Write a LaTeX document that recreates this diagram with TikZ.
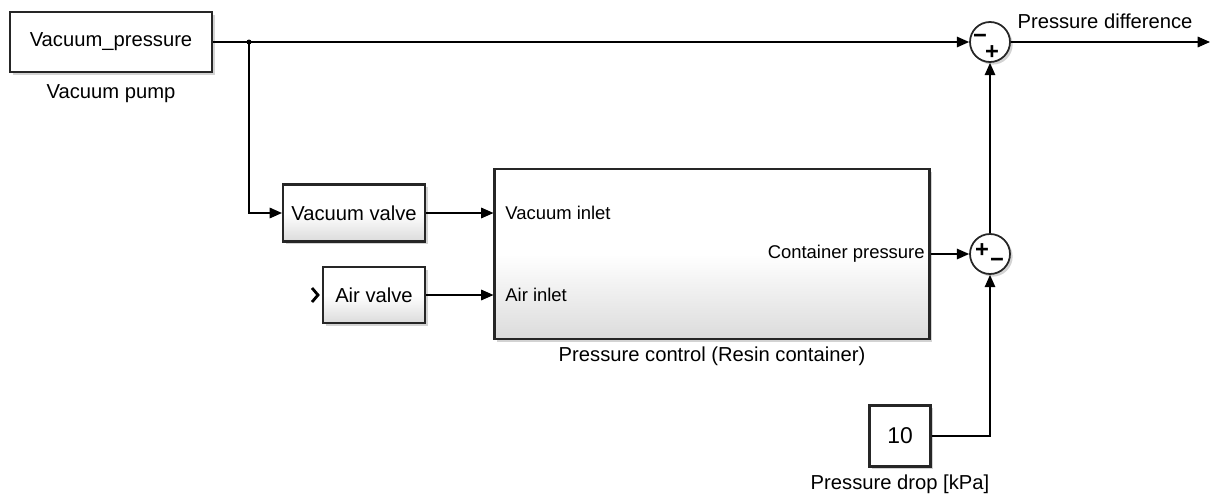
\documentclass[tikz,border=0pt]{standalone}
\usepackage{fontspec}
\setmainfont{Liberation Sans}
\usetikzlibrary{arrows.meta,shadows,positioning}

\begin{document}
\begin{tikzpicture}[
  x=0.02cm, y=-0.02cm,
  blk/.style={rectangle,draw=black!85,line width=1.2pt,inner sep=0pt,fill=white,
    drop shadow={shadow xshift=1.5pt,shadow yshift=-1.5pt,opacity=0.35},font=\fontsize{11.5}{13}\selectfont},
  shblk/.style={blk,top color=white,bottom color=black!14,middle color=white},
  sumnode/.style={circle,draw=black!85,line width=1pt,minimum size=0.8cm,inner sep=0pt,fill=white,
    drop shadow={shadow xshift=1.5pt,shadow yshift=-1.5pt,opacity=0.35}},
  sgn/.style={font=\fontsize{13.5}{13.5}\selectfont\bfseries,inner sep=0pt},
  lbl/.style={font=\fontsize{11.5}{13}\selectfont,inner sep=0pt},
  port/.style={font=\fontsize{10.5}{12}\selectfont,inner sep=0pt},
  sig/.style={-{Triangle[length=7pt,width=6pt]},line width=0.8pt}
]
\useasboundingbox (0,0) rectangle (1212,497);

% source and sums
\node[blk,minimum width=4.04cm,minimum height=1.2cm] (vp) at (111,42) {Vacuum\_pressure};
\node[lbl] (vplbl) at (111,94) {Vacuum pump};
\node[sumnode] (sum1) at (990,42) {};
\node[sumnode] (sum2) at (990,254) {};
\node[sgn] (s1a) at (980,39) {−};
\node[sgn] (s1b) at (992,53) {+};
\node[sgn] (s2a) at (982,251) {+};
\node[sgn] (s2b) at (997,263) {−};
\node[lbl] (pdiff) at (1105,21) {Pressure difference};
\coordinate (out) at (1210,42);
\coordinate (jn) at (249,42);

% valves
\node[shblk,minimum width=2.84cm,minimum height=1.14cm] (vv) at (354,213) {Vacuum valve};
\node[shblk,minimum width=2.04cm,minimum height=1.12cm] (av) at (374,295) {Air valve};

% resin container
\node[shblk,minimum width=8.7cm,minimum height=3.4cm] (pc) at (712,254) {};
\node[port,anchor=west] (vin) at (505,213) {Vacuum inlet};
\node[port,anchor=west] (ain) at (505,295) {Air inlet};
\node[port,anchor=east] (cout) at (925,254) {Container pressure};
\node[lbl] (pclbl) at (712,356) {Pressure control (Resin container)};

% constant
\node[blk,minimum width=1.22cm,minimum height=1.22cm,font=\fontsize{13}{15}\selectfont] (cst) at (900,436) {10};
\node[lbl] (cstlbl) at (900,484) {Pressure drop [kPa]};

\draw[sig] (vp.east) -- (sum1.west);
\fill (jn) circle (2.5);
\draw[sig] (jn) |- (vv.west);
\draw[sig] (vv.east) -- (vv.east -| pc.west);
\draw[sig] (av.east) -- (av.east -| pc.west);
\draw[line width=1.6pt] (312,288) -- (318,295) -- (312,302);
\draw[sig] (pc.east) -- (sum2.west);
\draw[sig] (sum2.north) -- (sum1.south);
\draw[sig] (cst.east) -| (sum2.south);
\draw[sig] (sum1.east) -- (out);
\end{tikzpicture}
\end{document}
